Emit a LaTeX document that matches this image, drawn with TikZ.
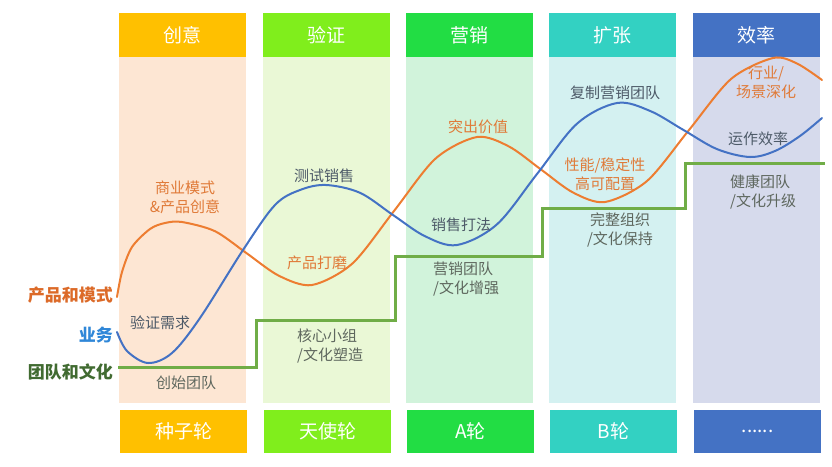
\documentclass[tikz,border=0pt]{standalone}
\usepackage{fontspec}
\setmainfont{Noto Sans CJK SC}
\definecolor{hA}{HTML}{FFC000}
\definecolor{hB}{HTML}{80EE1C}
\definecolor{hC}{HTML}{22DD44}
\definecolor{hD}{HTML}{33D1C2}
\definecolor{hE}{HTML}{4472C4}
\definecolor{bA}{HTML}{FDE6D3}
\definecolor{bB}{HTML}{EAF8D6}
\definecolor{bC}{HTML}{D1F3DB}
\definecolor{bD}{HTML}{D4F1F1}
\definecolor{bE}{HTML}{D6DAEC}
\definecolor{lineO}{HTML}{ED7D31}
\definecolor{lineB}{HTML}{4472C4}
\definecolor{lineG}{HTML}{70AD47}
\definecolor{txtO}{HTML}{E07A38}
\definecolor{txtB}{HTML}{4D5A68}
\definecolor{txtG}{HTML}{5E675E}
\definecolor{lblO}{HTML}{DC6A28}
\definecolor{lblB}{HTML}{2F87D8}
\definecolor{lblG}{HTML}{416B31}
\begin{document}
\begin{tikzpicture}[x=1pt,y=-1pt,
  hdr/.style={inner sep=0pt, minimum width=127pt, minimum height=44pt, anchor=north west, text=white, font=\fontsize{19}{19}\selectfont},
  ftr/.style={hdr, minimum height=43pt},
  colbody/.style={inner sep=0pt, minimum width=127pt, minimum height=346pt, anchor=north west},
  lbl/.style={inner sep=0pt, font=\fontsize{15}{19}\selectfont},
  side/.style={inner sep=0pt, anchor=east, font=\fontsize{17}{17}\selectfont\bfseries},
  curve/.style={line width=2pt, line join=round, line cap=round},
  stepline/.style={line width=3pt, lineG, line join=miter}
]
\useasboundingbox[fill=white] (0,0) rectangle (832,466);

% column bodies
\node[colbody, fill=bA] (b1) at (119,57) {};
\node[colbody, fill=bB] (b2) at (263,57) {};
\node[colbody, fill=bC] (b3) at (406,57) {};
\node[colbody, fill=bD] (b4) at (549,57) {};
\node[colbody, fill=bE] (b5) at (693,57) {};

% headers
\node[hdr, fill=hA] (h1) at (119,13) {创意};
\node[hdr, fill=hB] (h2) at (263,13) {验证};
\node[hdr, fill=hC] (h3) at (406,13) {营销};
\node[hdr, fill=hD] (h4) at (549,13) {扩张};
\node[hdr, fill=hE] (h5) at (693,13) {效率};

% footers
\node[ftr, fill=hA] (f1) at (120,410) {种子轮};
\node[ftr, fill=hB] (f2) at (264,410) {天使轮};
\node[ftr, fill=hC] (f3) at (407,410) {A轮};
\node[ftr, fill=hD] (f4) at (550,410) {B轮};
\node[ftr, fill=hE] (f5) at (694,410) {......};

% team step line
\coordinate (g0) at (118,367);
\coordinate (g9) at (825,163);
\draw[stepline] (g0) -- (256,367) -- (256,320) -- (395,320) -- (395,256)
  -- (542,256) -- (542,208) -- (685,208) -- (685,163) -- (g9);

% product curve (orange)
\draw[curve, lineO] plot[smooth, tension=0.5] coordinates {
  (117,297) (122,272) (132,247) (150,229) (165,223) (182,222)
  (215,231.2) (247,253.5) (279,275.8) (312,285)
  (352.5,263.4) (394,211) (435.5,158.6) (477,137)
  (509,146.5) (541,169.5) (573,192.5) (605,202)
  (647,181) (689,130) (731,79) (773,58)
  (797,63.5) (822,80)};

% business curve (blue)
\draw[curve, lineB] plot[smooth, tension=0.55] coordinates {
  (117,332) (127,351) (148,363) (172,353) (200,318) (243,250)
  (275,205) (300,190) (326,185)
  (360,192.8) (393,215) (425,236.2) (457,245)
  (497,224.3) (537,174) (577,123.7) (617,103)
  (650,110.9) (683.5,130) (717,149.1) (750,157)
  (775,151) (800,136) (822,118)};

% side labels
\node[side, text=lblO] (sP) at (113,295) {产品和模式};
\node[side, text=lblB] (sB) at (113,335) {业务};
\node[side, text=lblG] (sT) at (113,372) {团队和文化};

% column 1
\node[lbl, text=txtO, align=center] (t11) at (185,197) {商业模式\\\&产品创意};
\node[lbl, text=txtB] (t12) at (160,323) {验证需求};
\node[lbl, text=txtG] (t13) at (186,383) {创始团队};

% column 2
\node[lbl, text=txtB] (t21) at (324,176) {测试销售};
\node[lbl, text=txtO] (t22) at (317,263) {产品打磨};
\node[lbl, text=txtG, align=left, anchor=west] (t23) at (297,346) {核心小组\\/文化塑造};

% column 3
\node[lbl, text=txtO] (t31) at (478,127) {突出价值};
\node[lbl, text=txtB] (t32) at (461,225) {销售打法};
\node[lbl, text=txtG, align=left, anchor=west] (t33) at (433,279) {营销团队\\/文化增强};

% column 4
\node[lbl, text=txtB] (t41) at (615,93) {复制营销团队};
\node[lbl, text=txtO, align=center] (t42) at (605,174) {性能/稳定性\\高可配置};
\node[lbl, text=txtG, align=center] (t43) at (620,230) {完整组织\\/文化保持};

% column 5
\node[lbl, text=txtO, align=center] (t51) at (766,82) {行业/\\场景深化};
\node[lbl, text=txtB] (t52) at (758,139) {运作效率};
\node[lbl, text=txtG, align=left, anchor=west] (t53) at (730,191.5) {健康团队\\/文化升级};
\end{tikzpicture}
\end{document}
